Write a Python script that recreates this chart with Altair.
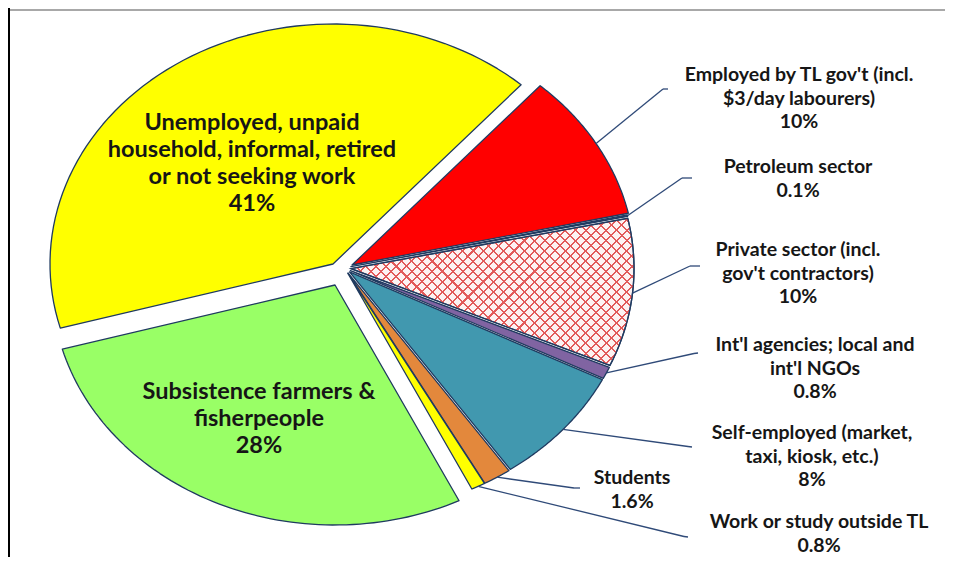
import math
import altair as alt
import pandas as pd

# ---------------- data ----------------
keys = ["unemployed", "gov", "petroleum", "private", "intl", "self", "students", "outside", "farmers"]
names = [
    "Unemployed, unpaid\nhousehold, informal, retired\nor not seeking work",
    "Employed by TL gov't (incl.\n$3/day labourers)",
    "Petroleum sector",
    "Private sector (incl.\ngov't contractors)",
    "Int'l agencies; local and\nint'l NGOs",
    "Self-employed (market,\ntaxi, kiosk, etc.)",
    "Students",
    "Work or study outside TL",
    "Subsistence farmers &\nfisherpeople",
]
shares = [41, 10, 0.1, 10, 0.8, 8, 1.6, 0.8, 28]

# ---------------- styles / layout ----------------
colors = ["#FFFF00", "#FF0000", "#2E4A7A", "#FDF2F2", "#8064A2", "#4198AF", "#E3883C", "#FFFF00", "#99FF66"]
explode_dx = [-12, 7, 5.9, 6, 5.4, 4.5, 3.2, 2.8, -10]
explode_dy = [-4, -3, -1.3, 0.6, 2.6, 3.9, 5.1, 5.3, 17]
# first-line centre of every label
label_x = [244, 791, 790, 790, 807, 804, 624, 811, 251]
label_y = [115, 67, 159, 242, 337, 425, 470, 514, 384]
elbow_x = [None, 655, 674, 682, 686, 680, 566, 676, None]
elbow_y = [None, 81, 170, 258, 345.5, 438.5, 480, 528.5, None]
end_x = [None, 660, 684, 692, 690, 684, 572, 680, None]
end_y = [None, 81, 170, 258, 345, 439, 480, 529, None]
inside = ["unemployed", "farmers"]

W, H = 937, 549
CX, CY = 337, 260
RX, RY = 283, 240
START = math.radians(-105.5)
N = 72
NAVY = "#1F3A60"
LEAD = "#2F4A78"
TXT = "#161616"
FONT = "Lato"

df = pd.DataFrame({
    "key": keys, "name": names, "share": shares, "idx": list(range(len(keys))),
    "dx": explode_dx, "dy": explode_dy, "lx": label_x, "ly": label_y,
    "ex": elbow_x, "ey": elbow_y, "tx": end_x, "ty": end_y,
})

xs = alt.Scale(domain=[0, W], nice=False, zero=False)
ys = alt.Scale(domain=[0, H], nice=False, zero=False, reverse=True)

base = alt.Chart(df).transform_window(
    cum="sum(share)", sort=[alt.SortField("idx")], frame=[None, 0]
).transform_joinaggregate(
    total="sum(share)"
).transform_calculate(
    a0=f"{START} + 2*PI*(datum.cum - datum.share)/datum.total",
    a1=f"{START} + 2*PI*datum.cum/datum.total",
    cx=f"{CX} + datum.dx",
    cy=f"{CY} + datum.dy",
)

pts = base.transform_calculate(
    step=f"sequence(0, {N + 2})"
).transform_flatten(["step"]).transform_calculate(
    ang=f"datum.a0 + (datum.a1 - datum.a0) * min(datum.step, {N}) / {N}",
).transform_calculate(
    px=f"datum.step > {N} ? datum.cx : datum.cx + {RX}*sin(datum.ang)",
    py=f"datum.step > {N} ? datum.cy : datum.cy - {RY}*cos(datum.ang)",
)

enc = dict(
    x=alt.X("px:Q", scale=xs, axis=None),
    y=alt.Y("py:Q", scale=ys, axis=None),
    order=alt.Order("step:Q"),
    detail="key:N",
)

pie = pts.mark_line(
    interpolate="linear-closed", stroke=NAVY, strokeWidth=1.3, strokeJoin="round"
).encode(
    fill=alt.Fill("key:N", scale=alt.Scale(domain=keys, range=colors), legend=None),
    **enc,
)


def stripes(x1, y1, x2, y2, n=42, frac=0.2):
    line = "#E25A5A"
    clear = "rgba(255,255,255,0)"
    stops = []
    for i in range(n):
        o0 = i / n
        o1 = (i + frac) / n
        o2 = (i + 1) / n
        stops += [
            alt.GradientStop(offset=o0, color=line),
            alt.GradientStop(offset=o1, color=line),
            alt.GradientStop(offset=o1, color=clear),
            alt.GradientStop(offset=o2, color=clear),
        ]
    return alt.LinearGradient(gradient="linear", stops=stops, x1=x1, y1=y1, x2=x2, y2=y2)


hatch_a = pts.transform_filter("datum.key == 'private'").mark_line(
    interpolate="linear-closed", fill=stripes(0, 0, 1.197, 0.622), strokeWidth=0
).encode(**enc)
hatch_b = pts.transform_filter("datum.key == 'private'").mark_line(
    interpolate="linear-closed", fill=stripes(0, 1, 1.197, 0.378), stroke=NAVY, strokeWidth=1.3
).encode(**enc)

lead_base = base.transform_filter("isValid(datum.ex)").transform_calculate(
    mid="(datum.a0 + datum.a1)/2",
).transform_calculate(
    sx=f"datum.cx + {RX}*sin(datum.mid)",
    sy=f"datum.cy - {RY}*cos(datum.mid)",
)
lead1 = lead_base.mark_rule(color=LEAD, strokeWidth=1.3).encode(
    x=alt.X("sx:Q", scale=xs, axis=None), y=alt.Y("sy:Q", scale=ys, axis=None),
    x2="ex:Q", y2="ey:Q",
)
lead2 = lead_base.mark_rule(color=LEAD, strokeWidth=1.3).encode(
    x=alt.X("ex:Q", scale=xs, axis=None), y=alt.Y("ey:Q", scale=ys, axis=None),
    x2="tx:Q", y2="ty:Q",
)

lab_base = alt.Chart(df).transform_calculate(
    label="datum.name + '\\n' + format(datum.share, '') + '%'"
)
in_filter = " || ".join(f"datum.key == '{k}'" for k in inside)
text_out = lab_base.transform_filter(f"!({in_filter})").mark_text(
    lineBreak="\n", align="center", baseline="middle", font=FONT, fontWeight="bold",
    fontSize=19.5, lineHeight=23.5, color=TXT,
).encode(
    x=alt.X("lx:Q", scale=xs, axis=None), y=alt.Y("ly:Q", scale=ys, axis=None), text="label:N"
)
text_in = lab_base.transform_filter(in_filter).mark_text(
    lineBreak="\n", align="center", baseline="middle", font=FONT, fontWeight="bold",
    fontSize=23.5, lineHeight=27, color=TXT,
).encode(
    x=alt.X("lx:Q", scale=xs, axis=None), y=alt.Y("ly:Q", scale=ys, axis=None), text="label:N"
)

frame_df = pd.DataFrame({"a": [0]})
top_line = alt.Chart(frame_df).mark_rule(color="#A8A8A8", strokeWidth=2).encode(
    x=alt.value(2), x2=alt.value(W), y=alt.value(2)
)
left_line = alt.Chart(frame_df).mark_rule(color="#000000", strokeWidth=2).encode(
    x=alt.value(1), y=alt.value(0), y2=alt.value(H)
)

chart = alt.layer(
    pie, hatch_a, hatch_b, lead1, lead2, text_out, text_in, top_line, left_line
).properties(
    width=W, height=H, padding=0, autosize=alt.AutoSizeParams(type="none"),
    background="white",
).configure_view(strokeWidth=0)

chart.save("out.html", embed_options={"renderer": "svg", "actions": False})
